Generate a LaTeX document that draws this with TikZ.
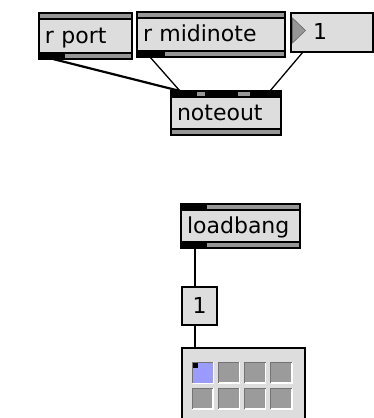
\documentclass[tikz,border=0pt]{standalone}
\usepackage{fontspec}
\setmainfont{DejaVu Sans}
\usetikzlibrary{calc}
\definecolor{maxbox}{RGB}{221,221,221}
\definecolor{maxband}{RGB}{150,150,150}
\definecolor{maxcell}{RGB}{155,155,155}
\definecolor{maxsel}{RGB}{155,155,255}

\begin{document}
\begin{tikzpicture}[x=1pt, y=-1pt,
  maxobj/.style={draw, line width=1.5pt, fill=maxbox, inner xsep=6pt, inner ysep=0pt,
    outer sep=0pt, align=left, anchor=north west, text height=14pt, text depth=0pt,
    font=\fontsize{22}{22}\selectfont},
  band/.style={draw, line width=1.2pt, fill=maxband},
  cord/.style={line width=1.3pt},
  cell/.style={fill=maxcell}]

\useasboundingbox (0,0) rectangle (374,418);
\clip (0,0) rectangle (374,418);

% --- receive objects ---
\node[maxobj, text width=81pt, minimum height=46pt] (rport) at (39,13) {r port};
\node[maxobj, text width=136pt, minimum height=45pt] (rmidi) at (137,12) {r midinote};

% number box
\node[maxobj, inner xsep=0pt, text width=82pt, minimum height=39pt] (numbox) at (291,13)
  {\hspace*{22pt}1};
\draw[fill=maxband, draw=maxband!70!black, line width=0.6pt]
  ($(numbox.north west)+(1.5,5)$) -- ++(13,12.5) -- ++(-13,12.5) -- cycle;

% --- noteout ---
\node[maxobj, text width=98pt, minimum height=44pt] (noteout) at (171,91) {noteout};

% --- loadbang ---
\node[maxobj, text width=107pt, minimum height=44pt] (loadbang) at (181,204) {loadbang};

% bands at top and bottom of the object boxes
\foreach \n in {rport,rmidi,noteout,loadbang} {
  \draw[band] (\n.north west) rectangle ($(\n.north east)+(0,6)$);
  \draw[band] ($(\n.south west)+(0,-6)$) rectangle (\n.south east);
}

% inlets and outlets
\fill ($(rport.south west)+(0,-6)$) rectangle ++(26,6);
\fill ($(rmidi.south west)+(0,-6)$) rectangle ++(28,6);
\fill (noteout.north west) rectangle ++(26,6);
\fill ($(noteout.north west)+(34,0)$) rectangle ++(33,6);
\fill ($(noteout.north west)+(79,0)$) rectangle ++(31,6);
\fill (loadbang.north west) rectangle ++(26,6);
\fill ($(loadbang.south west)+(0,-6)$) rectangle ++(26,6);

% --- message box ---
\node[maxobj, align=center, inner xsep=0pt, text width=35pt, minimum height=38pt,
  line width=1.7pt] (msg) at (182,287) {1};

% --- matrix control ---
\node[draw, line width=1.5pt, fill=maxbox, outer sep=0pt, anchor=north west,
  minimum width=123pt, minimum height=90pt] (grid) at (182,348) {};
\foreach \i in {0,...,3} {
  \foreach \j in {0,1} {
    \fill[cell] ($(grid.north west)+(10+26.3*\i,14+26*\j)$) rectangle ++(21,21);
    \draw[white, line width=1.2pt] ($(grid.north west)+(10+26.3*\i,14+26*\j)+(0,21)$)
      -- ++(21,0) -- ++(0,-21);
    \draw[black!55, line width=1pt] ($(grid.north west)+(10+26.3*\i,14+26*\j)+(0,21)$)
      -- ++(0,-21) -- ++(21,0);
  }
}
\fill[maxsel] ($(grid.north west)+(10.5,14.5)$) rectangle ++(20,20);
\fill ($(grid.north west)+(11,15)$) rectangle ++(4.5,4.5);

% --- patch cords ---
\coordinate (rport-out) at ($(rport.south west)+(14,0)$);
\coordinate (rmidi-out) at ($(rmidi.south west)+(13,0)$);
\coordinate (numbox-out) at ($(numbox.south west)+(12,0)$);
\coordinate (noteout-in1) at ($(noteout.north west)+(9,0)$);
\coordinate (noteout-in3) at ($(noteout.north east)+(-11,0)$);
\coordinate (loadbang-out) at ($(loadbang.south west)+(14,0)$);
\coordinate (msg-in) at ($(msg.north west)+(13,0)$);
\coordinate (msg-out) at ($(msg.south west)+(13,0)$);
\coordinate (grid-in) at ($(grid.north west)+(13,0)$);

\draw[cord, line width=2.2pt] (rport-out) -- (noteout-in1);
\draw[cord] (rmidi-out) -- (noteout-in1);
\draw[cord] (numbox-out) -- (noteout-in3);
\draw[cord] (loadbang-out) -- (msg-in);
\draw[cord] (msg-out) -- (grid-in);

\end{tikzpicture}
\end{document}
